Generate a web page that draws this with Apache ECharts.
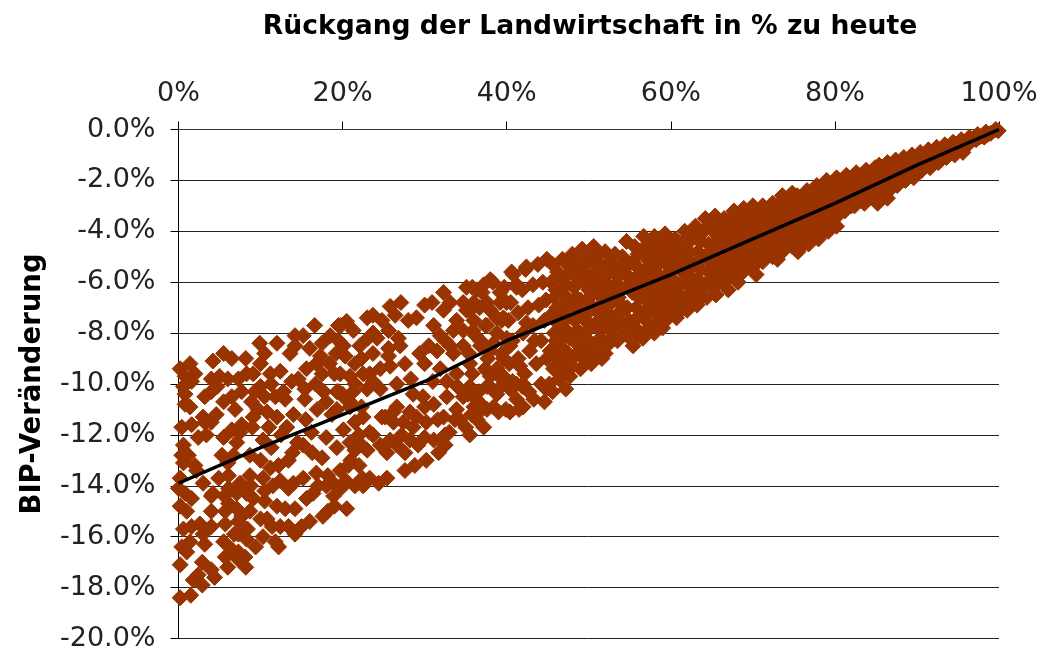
<!DOCTYPE html>
<html><head><meta charset="utf-8">
<style>html,body{margin:0;padding:0;background:#fff}#c{width:1043px;height:652px}</style>
<script src="https://cdn.jsdelivr.net/npm/echarts@6/dist/echarts.min.js"></script>
</head><body><div id="c"></div>
<script>
const chartTitle = 'Rückgang der Landwirtschaft in % zu heute';
const yTitle = 'BIP-Veränderung';
const trend = [[0,-13.9],[10,-12.5],[20,-11.2],[30,-9.9],[40,-8.3],[50,-7.0],[60,-5.7],[70,-4.3],[80,-2.9],[90,-1.4],[100,0]];
const band0to5 = [[.2,-9.4],[1.4,-9.2],[.8,-9.7],[2,-9.6],[1.6,-9.9],[.6,-10.1],[.8,-10.4],[.8,-10.8],[1.4,-10.9],[.4,-11.7],[1.6,-11.6],[3,-11.3],[3.2,-11.5],[4,-11.5],[2.4,-12.1],[3.4,-12],[.6,-12.4],[.4,-12.8],[1.2,-12.8],[.6,-13.1],[2,-13.2],[2.2,-13.4],[.2,-13.7],[0,-14.1],[.8,-14.3],[1.6,-14.5],[.2,-14.8],[1,-15],[3,-13.9],[4.2,-14.3],[4,-15],[.6,-15.7],[1.6,-15.6],[2.6,-15.5],[3.2,-15.7],[4,-15.6],[3,-15.9],[1.4,-16.2],[.4,-16.4],[1,-16.6],[3.2,-16.3],[.2,-17.1],[2.9,-17],[2.4,-17.5],[1.8,-17.7],[2.9,-17.9],[4,-17.3],[4.4,-17.6],[.2,-18.4],[1.5,-18.3],[4.2,-9.1],[4,-9.8],[3.2,-10.5],[4,-10.3],[4,-14.4],[4.9,-13.7],[4.6,-11.2],[4.7,-10.1]];
const band5to15 = [[5.5,-8.8],[6.5,-9],[8.2,-9],[9.9,-8.4],[12,-8.4],[10.5,-8.8],[10,-9.2],[5,-9.7],[6,-9.8],[7.3,-9.8],[8.3,-9.6],[9.1,-9.6],[11.2,-9.6],[12.4,-9.5],[13.6,-8.8],[14.2,-8.1],[14.2,-8.5],[5.5,-12.1],[5.3,-12.8],[5.5,-16.2],[5.7,-16.8],[6,-17.2],[8.2,-17.2],[6.5,-16.5],[7.3,-16.6],[8.1,-16.8],[7.3,-16.9],[7.3,-15.9],[8.4,-15.7],[8.3,-16.1],[9.4,-16.4],[10.3,-16],[11.8,-16.2],[12.2,-16.4],[5.7,-15.5],[5.7,-15],[6.1,-14.7],[7.3,-15.4],[7.7,-15.2],[8.7,-15],[7.1,-14.9],[6.1,-14.1],[7.1,-14.3],[8.3,-14.3],[9.1,-14.5],[10.5,-14.6],[10,-15.3],[10.8,-15.3],[11.4,-15.6],[12.4,-15.6],[13.4,-15.6],[14.2,-15.9],[12,-14.8],[13,-14.9],[14.2,-14.9],[13.4,-14.1],[12.4,-13.8],[14,-13.9],[10.3,-13.7],[8.7,-13.6],[6.1,-13.6],[7.5,-13.9],[10,-13],[12.2,-13.2],[13.4,-13],[11.2,-13.3],[6.7,-12.8],[8.7,-12.8],[10.3,-12.2],[7.1,-12.3],[6.5,-11.8],[7.7,-11.6],[9,-11.7],[7.5,-11.9],[11,-11.7],[13.2,-11.7],[12,-11.3],[14,-11.2],[10.8,-11.1],[9.7,-11],[8.9,-10.7],[6.9,-11],[5.5,-10.7],[6.5,-10.5],[7.7,-10.3],[9.3,-10.3],[10,-10.1],[10.5,-10.5],[11.8,-10.5],[12.8,-10.3],[13,-10.6],[14.6,-9.8],[13.8,-9.9],[11.3,-10],[14.5,-12.3],[13.9,-12.7],[11.3,-12.5],[12.5,-12],[9.1,-11.3],[6,-13.1],[8.8,-14],[10.5,-14.2],[11.5,-14],[6.8,-15.9],[5.6,-14.4]];
const band15to25 = [[15.2,-8.1],[16.6,-7.7],[16,-8.6],[15.6,-9.4],[16.8,-9.2],[17.5,-9.6],[19,-9.6],[15.4,-10.2],[15.4,-10.6],[17.7,-10.3],[19.3,-10.3],[18,-10.7],[20,-10.4],[21.3,-10.3],[20.9,-10.7],[15.2,-13.7],[16.8,-13.5],[15.6,-14.5],[16.4,-14.3],[15,-15.6],[16,-15.4],[15.5,-11.4],[16.2,-11.9],[15.2,-12.4],[16.3,-12.7],[17.5,-12.9],[18.2,-13.6],[18.9,-14.4],[19,-14.8],[20.4,-13.8],[19.8,-14.1],[21.5,-14],[22.4,-13.7],[21,-13],[21.4,-12.4],[22,-12],[18.2,-15],[17.6,-15.2],[20.5,-14.9],[18.5,-8.1],[19.8,-7.7],[17.5,-8.4],[19.2,-8.8],[18.4,-9.2],[16.7,-10],[16.9,-11],[18.7,-11.2],[18,-12.1],[17,-14],[18,-14],[17.3,-8.9]];
const band18to42Read = [[20.5,-7.54],[19.5,-7.7],[21.3,-7.9],[23,-7.4],[23.7,-7.3],[24.8,-7.5],[25.6,-7.9],[25.8,-6.95],[27.1,-6.8],[26.4,-7.3],[28,-7.5],[29,-7.4],[30,-6.9],[30.9,-6.8],[31.1,-7.7],[32.3,-6.4],[33.1,-6.8],[32.3,-7.1],[35.1,-6.2],[36.3,-6.3],[38,-5.9],[37.2,-6.1],[34.7,-6.8],[36,-6.9],[37.6,-6.8],[39.2,-6.4],[40.6,-5.6],[42.4,-5.4],[41.2,-6.1],[40,-6.8],[38.8,-7.4],[26.8,-8.2],[27,-8.5],[25.6,-8.6],[25.6,-8.9],[25.8,-9.3],[27.6,-9.2],[23.1,-8.2],[24.2,-8.2],[19.5,-8.3],[20.3,-8.9],[22.3,-9],[23.7,-8.8],[21.5,-9.2],[29.4,-8.8],[30.5,-8.5],[31.5,-8.7],[30,-9.2],[32.5,-8.3],[33.5,-7.9],[33.1,-8.5],[36,-7.5],[37.6,-7.7],[39.4,-7.5],[42.4,-7.6],[31.9,-9.4],[33.9,-9.6],[35.5,-9.2],[37.6,-9.5],[39.6,-9],[41.6,-9.3],[32.7,-9.9],[35.5,-10.1],[38,-9.7],[39.4,-9.8],[41.2,-10],[19.5,-10.3],[21.5,-10],[23,-10.2],[24.6,-10.2],[23.3,-9.6],[23.7,-9.9],[20.1,-10.5],[22.3,-10.9],[25.2,-11.3],[26.6,-10.9],[28.2,-11.1],[29.8,-10.5],[31.1,-10.8],[32.7,-10.5],[33.9,-11],[34.7,-10.5],[36.3,-10.6],[37.6,-11],[38.8,-10.4],[40.4,-11.1],[42,-10.9],[35.5,-12],[37.2,-11.7],[36.4,-11.4],[33.7,-11.4],[32.5,-12],[32.5,-12.4],[31.7,-12.7],[30.2,-13],[28.8,-13.2],[27.6,-13.4],[30,-12.1],[28.2,-12.2],[26.2,-11.5],[24.8,-11.3],[23.3,-11.9],[24.6,-12.4],[26.6,-12.4],[27.6,-12.7],[23,-12.6],[21.5,-12.6],[20.7,-13.2],[22,-13.2],[23.3,-13.7],[25.4,-13.7],[24.4,-13.9],[22.5,-14],[19.7,-13.4],[19.3,-12.5],[21.5,-11.5],[20.1,-11.8],[18.9,-13.9]];
const band20to42Second = [[28.6,-10.4],[27.4,-11.5],[28.6,-11.7],[30.2,-11.5],[32.3,-11.3],[34.3,-11.4],[36,-10.9],[37.2,-10.9],[39,-11.1],[26.2,-11.1],[25.8,-12.2],[27.2,-12],[29.2,-12.4],[31.1,-12.2],[20.9,-12.3],[22.3,-12.4],[23.7,-12],[25.4,-12.7],[20.9,-10.9],[19.3,-11],[22.5,-11.3],[19.7,-9.6],[20.9,-9.7],[22.5,-9.6],[24.6,-9.4],[20.1,-8.5],[22.1,-8.5],[23.7,-8],[31.9,-8.1],[33.9,-7.5],[35.1,-7.1],[34.7,-7.9],[36.8,-8.3],[38.4,-8.4],[40.4,-8.5],[34.7,-8.5],[33.5,-8.8],[39.6,-9.7],[40.4,-10.2],[42,-10],[37.6,-10.1],[34,-10.1],[31,-9.9],[33,-11.9],[35,-11.7],[29,-11.3],[31.6,-11.4],[30,-10.9],[28.3,-9.8],[26.6,-10]];
const band35to45 = [[35.8,-6.2],[37,-6.4],[38.3,-6],[39.7,-6.2],[40.8,-5.7],[42.3,-5.5],[43.8,-5.3],[44.9,-5.1],[35.5,-7.1],[36.7,-7],[38,-7.1],[39.2,-6.8],[40.5,-6.8],[41.9,-6.3],[43.2,-6.1],[44.4,-6],[35.9,-7.9],[37.4,-7.7],[38.8,-8],[40.2,-7.5],[41.4,-7.2],[42.6,-7],[43.9,-6.9],[44.8,-6.7],[35.4,-8.8],[36.8,-8.5],[38,-8.7],[39.4,-8.8],[40.7,-8.3],[42,-8],[43.2,-7.7],[44.6,-7.5],[35.8,-9.6],[37.4,-9.4],[38.8,-9.4],[40.3,-9.2],[41.4,-9],[42.8,-8.7],[44.2,-8.3],[35.3,-10.4],[36.6,-10.3],[37.9,-10.1],[39.3,-10.1],[40.7,-9.9],[42.2,-9.6],[43.6,-9.2],[44.9,-9],[35.7,-11.2],[37,-11],[38.4,-10.9],[39.9,-11],[41.2,-10.6],[42.7,-10.3],[44.2,-10],[41.5,-11],[43.3,-10.6],[44.8,-10.2],[36,-6.8],[41.2,-6.2],[39.6,-7.4],[37.7,-9],[40,-8.2],[43.4,-8.3],[36.2,-8.1],[41.9,-10.1]];
const band45to55 = [[45.6,-5.3],[46.8,-5.1],[48,-4.9],[49.2,-4.7],[50.6,-4.6],[52,-4.8],[53.2,-4.9],[54.6,-4.4],[45.4,-6],[46.6,-5.8],[47.7,-5.6],[48.9,-5.4],[50.2,-5.2],[51.4,-5.3],[52.8,-5.5],[54.1,-5],[45.8,-6.6],[47,-6.5],[48.2,-6.2],[49.5,-6],[50.8,-5.9],[52,-6],[53.2,-6.1],[54.6,-5.7],[45.4,-7.3],[46.6,-7.1],[47.8,-6.9],[49,-6.7],[50.4,-6.5],[51.6,-6.6],[52.8,-6.8],[54,-6.3],[45.8,-8],[47,-7.8],[48.3,-7.5],[49.6,-7.3],[50.9,-7.1],[52.2,-7.2],[53.4,-7.3],[54.7,-7],[45.3,-8.7],[46.5,-8.5],[47.7,-8.2],[49,-8],[50.2,-7.8],[51.4,-7.9],[52.6,-7.9],[53.9,-7.7],[54.9,-7.5],[45.7,-9.4],[47,-9.2],[48.3,-8.9],[49.6,-8.7],[50.9,-8.5],[52.2,-8.5],[53.5,-8.3],[54.7,-8.1],[45.2,-10],[46.4,-9.8],[47.7,-9.7],[49,-9.4],[50.3,-9.2],[51.6,-9],[45.6,-10.3],[47.2,-10.2],[44.6,-10.7]];
const fill45to55 = [[46.2,-5.6],[47.4,-5.3],[48.6,-5.2],[49.8,-5],[51.2,-4.9],[52.6,-5.2],[53.8,-5.4],[46,-6.3],[47.2,-6.1],[48.4,-5.8],[49.7,-5.7],[51,-5.6],[52.3,-5.7],[53.6,-5.8],[54.9,-5.3],[46.1,-7],[47.3,-6.8],[48.5,-6.6],[50,-6.3],[51.2,-6.2],[52.4,-6.4],[53.6,-6.6],[54.8,-6.1],[46.2,-7.6],[47.4,-7.4],[48.8,-7.1],[50.2,-6.9],[51.4,-6.9],[52.8,-7.4],[54,-6.9],[46,-8.3],[47.2,-8.1],[48.6,-7.9],[49.9,-7.6],[51.2,-7.5],[52.4,-7.6],[53.8,-7.2],[46.2,-9],[47.5,-8.8],[48.8,-8.5],[50,-8.3],[51.4,-8.2],[52.8,-8.2],[54.2,-7.9],[46.6,-9.5],[48,-9.3],[49.4,-9],[50.7,-8.9],[52,-8.8]];
const band55to65 = [[55.6,-4.6],[56.7,-4.2],[58,-4.2],[59.3,-4.1],[60.5,-4.3],[61.7,-4],[63,-3.8],[64.2,-3.5],[55.4,-5.2],[56.6,-4.9],[57.8,-4.8],[59,-4.7],[60.2,-4.8],[61.4,-4.6],[62.6,-4.3],[64,-4],[55.8,-5.8],[57,-5.5],[58.2,-5.4],[59.5,-5.3],[60.8,-5.3],[62,-5.1],[63.3,-4.8],[64.6,-4.5],[55.3,-6.4],[56.5,-6.1],[57.8,-6],[59,-5.9],[60.3,-5.9],[61.6,-5.6],[62.8,-5.3],[64.1,-5],[55.8,-7],[57,-6.7],[58.2,-6.5],[59.5,-6.4],[60.8,-6.4],[62,-6.1],[63.3,-5.9],[64.6,-5.6],[55.3,-7.6],[56.5,-7.3],[57.8,-7.1],[59,-6.9],[60.3,-7],[61.5,-6.7],[62.8,-6.4],[64,-6.1],[55.8,-8.2],[57,-7.9],[58.2,-7.7],[59.4,-7.5],[60.7,-7.4],[62,-7.1],[63.2,-6.9],[64.4,-6.6],[55.4,-8.5],[56.6,-8.2],[58,-8],[59,-7.8]];
const fill55to65 = [[56,-4.9],[57.2,-4.5],[58.5,-4.5],[59.7,-4.4],[61,-4.5],[62.2,-4.2],[63.4,-4.1],[64.7,-3.8],[56.2,-5.5],[57.4,-5.2],[58.6,-5.1],[59.8,-5],[61,-5],[62.2,-4.8],[63.6,-4.4],[56,-6.1],[57.2,-5.8],[58.4,-5.7],[59.8,-5.6],[61.2,-5.5],[62.4,-5.4],[63.7,-5.1],[64.9,-4.8],[56.1,-6.6],[57.3,-6.4],[58.6,-6.2],[59.9,-6.1],[61.1,-6.1],[62.4,-5.8],[63.6,-5.5],[64.8,-5.2],[56.2,-7.3],[57.4,-7],[58.6,-6.8],[59.8,-6.7],[61,-6.7],[62.3,-6.5],[63.6,-6.2],[64.9,-5.9],[56,-7.9],[57.3,-7.6],[58.7,-7.4],[59.9,-7.2],[61.2,-7.1],[62.5,-6.8],[63.7,-6.6]];
const band65to75 = [[65.4,-3.4],[66.5,-3.5],[67.7,-3.2],[68.9,-3.1],[70,-3],[71.2,-3],[72.4,-2.9],[73.6,-2.6],[74.8,-2.5],[65.2,-4],[66.4,-3.9],[67.6,-3.7],[68.8,-3.6],[70,-3.4],[71.2,-3.4],[72.4,-3.3],[73.6,-3.1],[74.8,-2.9],[65.6,-4.6],[66.8,-4.4],[68,-4.2],[69.2,-4.1],[70.4,-3.9],[71.6,-3.9],[72.8,-3.7],[74,-3.5],[65.2,-5.2],[66.4,-5],[67.6,-4.8],[68.8,-4.6],[70,-4.4],[71.2,-4.3],[72.4,-4.2],[73.6,-4],[74.8,-3.8],[65.6,-5.7],[66.8,-5.5],[68,-5.3],[69.2,-5.1],[70.4,-4.9],[71.6,-4.7],[72.8,-4.6],[74,-4.4],[65.2,-6.2],[66.4,-6],[67.6,-5.8],[68.8,-5.6],[70,-5.4],[71.2,-5.2],[72.4,-5],[73.6,-4.8],[74.8,-4.6],[65.5,-6.5],[67,-6.3],[68.2,-6],[70.4,-5.7],[73,-5.1]];
const fill65to75 = [[65.8,-3.7],[67,-3.6],[68.2,-3.4],[69.5,-3.3],[70.6,-3.2],[71.8,-3.2],[73,-3],[74.2,-2.8],[65.9,-4.3],[67.2,-4.1],[68.4,-3.9],[69.6,-3.8],[70.8,-3.6],[72,-3.6],[73.2,-3.4],[74.4,-3.2],[65.8,-4.9],[67,-4.7],[68.2,-4.5],[69.4,-4.3],[70.6,-4.1],[71.8,-4.1],[73,-3.9],[74.4,-3.7],[65.9,-5.4],[67.2,-5.2],[68.4,-5],[69.6,-4.8],[70.8,-4.6],[72,-4.5],[73.2,-4.3],[74.4,-4.1],[65.8,-6],[67.1,-5.8],[68.4,-5.5],[69.6,-5.3],[70.8,-5.1],[72,-4.9],[73.2,-4.7],[74.4,-4.5]];
const band75to85 = [[75.4,-2.6],[76.6,-2.4],[77.8,-2.2],[79,-2],[80.2,-1.9],[81.4,-1.8],[82.6,-1.7],[83.8,-1.6],[84.9,-1.5],[75.6,-3],[76.8,-2.8],[78,-2.6],[79.2,-2.4],[80.4,-2.3],[81.6,-2.2],[82.8,-2],[84,-1.9],[75.2,-3.4],[76.4,-3.2],[77.6,-3],[78.8,-2.8],[80,-2.6],[81.2,-2.5],[82.4,-2.4],[83.6,-2.2],[84.8,-2],[75.6,-3.9],[76.8,-3.7],[78,-3.4],[79.2,-3.2],[80.4,-3],[81.6,-2.9],[82.8,-2.7],[84,-2.5],[75.2,-4.4],[76.4,-4.2],[77.6,-4],[78.8,-3.7],[80,-3.5],[81.2,-3.2],[82.4,-3],[83.6,-2.9],[84.8,-2.7],[75.5,-4.8],[76.8,-4.5],[78,-4.3],[79.2,-4],[80.2,-3.8]];
const fill75to85 = [[76,-2.7],[77.2,-2.5],[78.4,-2.3],[79.6,-2.2],[80.8,-2],[82,-2],[83.2,-1.8],[84.4,-1.7],[76,-3.2],[77.2,-3],[78.4,-2.8],[79.6,-2.6],[80.8,-2.5],[82,-2.3],[83.2,-2.2],[84.4,-2.1],[76,-3.7],[77.2,-3.4],[78.4,-3.2],[79.6,-3],[80.8,-2.8],[82,-2.7],[83.2,-2.5],[84.4,-2.3],[76,-4.1],[77.2,-3.8],[78.4,-3.6],[79.6,-3.4],[80.8,-3.2],[82,-3],[83.2,-2.8],[75.9,-4.6],[77.2,-4.3],[78.4,-4.1],[79.7,-3.8]];
const band85to100 = [[85.4,-1.4],[86.4,-1.3],[87.4,-1.2],[88.4,-1.1],[89.4,-1],[90.4,-.9],[91.4,-.8],[92.4,-.7],[93.4,-.6],[94.4,-.5],[95.4,-.4],[96.4,-.3],[97.4,-.2],[98.4,-.1],[99.6,0],[85.6,-1.8],[86.6,-1.7],[87.6,-1.5],[88.6,-1.4],[89.6,-1.3],[90.6,-1.1],[91.6,-1],[92.6,-.9],[93.6,-.8],[94.6,-.7],[95.6,-.6],[96.6,-.4],[97.6,-.3],[98.6,-.2],[85.2,-2.2],[86.2,-2.1],[87.2,-1.9],[88.2,-1.7],[89.2,-1.6],[90.2,-1.4],[91.2,-1.3],[92.2,-1.1],[93.2,-1],[94.2,-.9],[95.2,-.8],[96.2,-.6],[97.2,-.4],[98.2,-.3],[85.6,-2.7],[86.6,-2.4],[87.6,-2.2],[88.6,-2],[89.6,-1.9],[90.6,-1.6],[91.6,-1.5],[92.6,-1.3],[93.6,-1.1],[94.6,-1],[95.6,-.9],[85.2,-2.9],[86.4,-2.7],[85.9,-1.6],[86.9,-1.5],[87.9,-1.4],[88.9,-1.25],[89.9,-1.15],[90.9,-1],[91.9,-.9],[92.9,-.8],[93.9,-.7],[94.9,-.6],[95.9,-.5],[96.9,-.35],[97.9,-.25],[85.9,-2.4],[86.9,-2.2],[87.9,-2],[88.9,-1.8],[89.9,-1.7],[90.9,-1.45],[91.9,-1.3],[92.9,-1.2],[93.9,-1],[99,-.15],[99.9,-.05]];
const points = [].concat(band0to5, band5to15, band15to25, band18to42Read, band20to42Second, band35to45, band45to55, fill45to55, band55to65, fill55to65, band65to75, fill65to75, band75to85, fill75to85, band85to100);

const chart = echarts.init(document.getElementById('c'), null, {renderer:'canvas'});
const font = 'DejaVu Sans';
chart.setOption({
  animation:false, backgroundColor:'#fff',
  title:{text:chartTitle,left:585,top:9,textAlign:'center',textStyle:{fontFamily:font,fontWeight:'bold',fontSize:26.6,color:'#000'}},
  grid:{left:178.5,right:44,top:129.5,bottom:12.5,containLabel:false},
  xAxis:{type:'value',position:'top',min:0,max:100,interval:20,
    axisLine:{show:true,onZero:false,lineStyle:{color:'#333',width:1}},
    axisTick:{show:true,length:8,inside:false,lineStyle:{color:'#000'}},
    axisLabel:{formatter:'{value}%',fontFamily:font,fontSize:27,color:'#222',margin:22,hideOverlap:false},
    splitLine:{show:false}},
  yAxis:{type:'value',min:-20,max:0,interval:2,
    name:yTitle,nameLocation:'middle',nameRotate:90,nameGap:132,
    nameTextStyle:{fontFamily:font,fontWeight:'bold',fontSize:27.5,color:'#000'},
    axisLine:{show:true,onZero:false,lineStyle:{color:'#000',width:1}},
    axisTick:{show:true,length:8,lineStyle:{color:'#000'}},
    axisLabel:{formatter:v=>v.toFixed(1)+'%',fontFamily:font,fontSize:27,color:'#222',margin:23,hideOverlap:false},
    splitLine:{show:true,lineStyle:{color:'#222',width:1}}},
  series:[
    {type:'scatter',data:points,symbol:'diamond',symbolSize:16,itemStyle:{color:'#993300',borderColor:'#993300',borderWidth:1,opacity:1},z:2,clip:false},
    {type:'line',data:trend,showSymbol:false,symbol:'none',lineStyle:{color:'#000',width:3.5},z:3,clip:false}
  ]
});
</script></body></html>
